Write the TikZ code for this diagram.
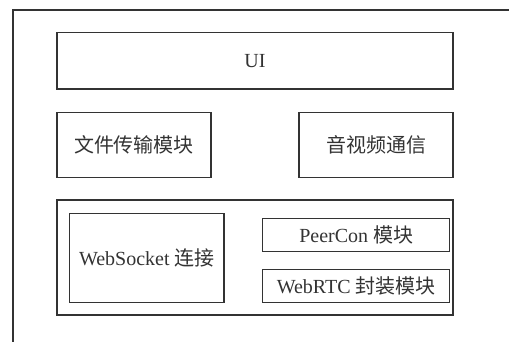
\documentclass[tikz,border=0pt]{standalone}
\usepackage{fontspec}
\setmainfont{Liberation Serif}
\newfontfamily\cjk{Noto Sans CJK SC}
\usetikzlibrary{positioning}

\tikzset{
    modbox/.style={rectangle, draw=black!80, line width=0.6pt, text=black!80,
        inner sep=0pt, font=\fontsize{10pt}{12pt}\selectfont},
}

\begin{document}
\begin{tikzpicture}[x=0.5pt, y=-0.5pt]
    \useasboundingbox (0,0) rectangle (509,342);

    % outer frame (cut off at the right and bottom)
    \draw[black!80, line width=0.6pt] (13,342) -- (13,10) -- (509,10);

    \node[modbox, minimum width=198pt, minimum height=28.25pt] (ui) at (255,60.75) {UI};

    \node[modbox, minimum width=77pt, minimum height=32.7pt] (file) at (134,145) {\cjk 文件传输模块};
    \node[modbox, minimum width=77pt, minimum height=32.7pt] (av) at (376,145) {\cjk 音视频通信};

    \node[modbox, minimum width=198pt, minimum height=57.5pt] (core) at (255,257.5) {};

    \node[modbox, minimum width=77.2pt, minimum height=44.5pt] (ws) at (146.85,257.8) {WebSocket {\cjk 连接}};
    \node[modbox, minimum width=93.5pt, minimum height=16.3pt] (peer) at (356.2,235) {PeerCon {\cjk 模块}};
    \node[modbox, minimum width=93.5pt, minimum height=16.3pt] (rtc) at (356.2,286) {WebRTC {\cjk 封装模块}};
\end{tikzpicture}
\end{document}
